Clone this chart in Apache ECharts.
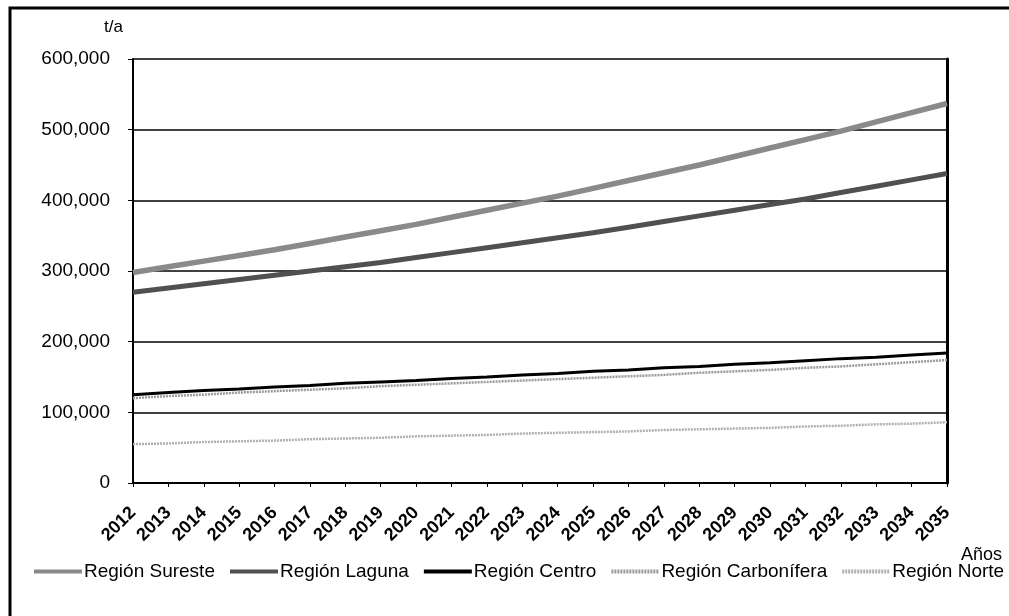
<!DOCTYPE html>
<html>
<head>
<meta charset="utf-8">
<script src="https://cdn.jsdelivr.net/npm/echarts@6/dist/echarts.min.js"></script>
<style>
  html, body { margin: 0; padding: 0; background: #fff; }
  #chart { width: 1009px; height: 616px; }
</style>
</head>
<body>
<div id="chart"></div>
<script>
// años y toneladas por año
var years = ['2012','2013','2014','2015','2016','2017','2018','2019','2020','2021','2022','2023',
             '2024','2025','2026','2027','2028','2029','2030','2031','2032','2033','2034','2035'];
var seriesNames = ['Región Sureste', 'Región Laguna', 'Región Centro', 'Región Carbonífera', 'Región Norte'];
var sureste = [298000, 306000, 314000, 322000, 330000, 339000, 348000, 357000, 366000, 376000, 386000, 396000,
               406000, 417000, 428000, 439000, 450000, 462000, 474000, 486000, 498000, 511000, 524000, 537000];
var laguna = [270000, 276000, 282000, 288000, 294000, 300000, 306000, 312000, 319000, 326000, 333000, 340000,
              347000, 354000, 362000, 370000, 378000, 386000, 394000, 402000, 411000, 420000, 429000, 438000];
var centro = [125000, 128000, 131000, 133000, 136000, 138000, 141000, 143000, 145000, 148000, 150000, 153000,
              155000, 158000, 160000, 163000, 165000, 168000, 170000, 173000, 176000, 178000, 181000, 184000];
var carbonifera = [120000, 123000, 125000, 128000, 130000, 132000, 134000, 137000, 139000, 141000, 143000, 145000,
                   147000, 149000, 151000, 153000, 156000, 158000, 160000, 163000, 165000, 168000, 171000, 174000];
var norte = [55000, 56000, 58000, 59000, 60000, 62000, 63000, 64000, 66000, 67000, 68000, 70000,
             71000, 72000, 73000, 75000, 76000, 77000, 78000, 80000, 81000, 83000, 84000, 86000];

var font = 'Arial, "Liberation Sans", sans-serif';

function mkLine(name, data, color, width, type) {
    return {
        name: name,
        type: 'line',
        data: data,
        symbol: 'none',
        lineStyle: { color: color, width: width, type: type || 'solid' },
        itemStyle: { color: color },
        z: 3
    };
}

var chart = echarts.init(document.getElementById('chart'));
chart.setOption({
    backgroundColor: '#fff',
    animation: false,
    graphic: [
        { type: 'rect', shape: { x: 10, y: 8, width: 1100, height: 700 },
          style: { fill: 'none', stroke: '#000', lineWidth: 3 }, z: 0 },
        { type: 'text', left: 104, top: 19,
          style: { text: 't/a', font: '17px ' + font, fill: '#000' } },
        { type: 'text', left: 961, top: 546,
          style: { text: 'Años', font: '18px ' + font, fill: '#000' } }
    ],
    grid: { left: 133, right: 62, top: 59, bottom: 133 },
    legend: {
        left: 27,
        top: 557,
        width: 1400,
        itemWidth: 48,
        itemHeight: 10,
        itemGap: 13,
        itemStyle: { opacity: 0 },
        lineStyle: { width: 4 },
        textStyle: { fontFamily: font, fontSize: 19, color: '#000', padding: [0, 0, 0, -3] },
        data: seriesNames
    },
    xAxis: {
        type: 'category',
        data: years,
        boundaryGap: false,
        axisLine: { lineStyle: { color: '#000', width: 2 } },
        axisTick: { show: true, length: 4, inside: false, lineStyle: { color: '#000' } },
        axisLabel: {
            rotate: 45,
            interval: 0,
            margin: 27,
            fontFamily: font,
            fontSize: 18,
            fontWeight: 'bold',
            color: '#000'
        },
        splitLine: { show: false }
    },
    yAxis: [{
        type: 'value',
        min: 0,
        max: 600000,
        interval: 100000,
        axisLine: { show: true, lineStyle: { color: '#000', width: 2 } },
        axisTick: { show: true, length: 5, lineStyle: { color: '#000' } },
        axisLabel: {
            margin: 23,
            fontFamily: font,
            fontSize: 19,
            color: '#000',
            formatter: function (v) { return v.toLocaleString('en-US'); }
        },
        splitLine: { show: true, lineStyle: { color: '#000', width: 1.5 } }
    }, {
        type: 'value',
        position: 'right',
        min: 0,
        max: 600000,
        interval: 100000,
        axisLine: { show: true, lineStyle: { color: '#000', width: 3 } },
        axisTick: { show: false },
        axisLabel: { show: false },
        splitLine: { show: false }
    }],
    series: [
        mkLine(seriesNames[0], sureste, '#8a8a8a', 5.5),
        mkLine(seriesNames[1], laguna, '#505050', 5),
        mkLine(seriesNames[2], centro, '#000000', 3),
        mkLine(seriesNames[3], carbonifera, '#9a9a9a', 2.5, [2, 1]),
        mkLine(seriesNames[4], norte, '#b0b0b0', 2.5, [2, 1])
    ]
});
</script>
</body>
</html>
